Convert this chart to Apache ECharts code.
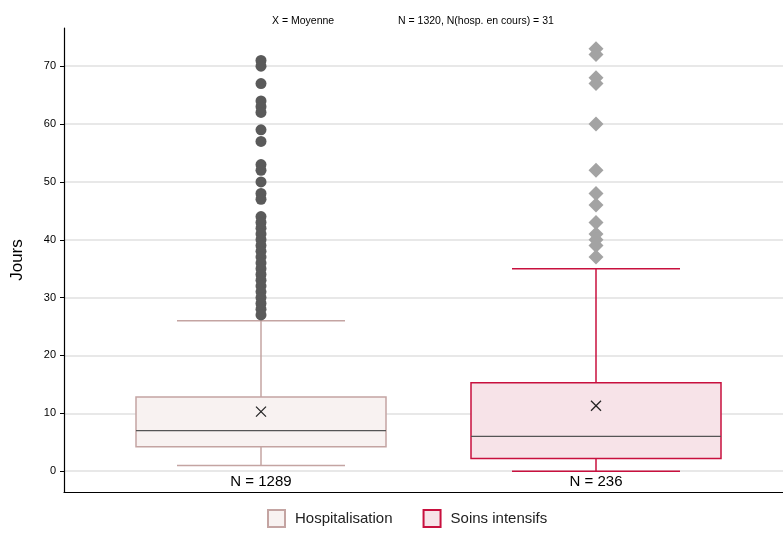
<!DOCTYPE html>
<html>
<head><meta charset="utf-8"></head>
<body style="margin:0">
<div id="c" style="width:783px;height:535px"></div>
<script src="https://cdn.jsdelivr.net/npm/echarts@6/dist/echarts.min.js"></script>
<script>
var categories = ['N = 1289', 'N = 236'];
var seriesNames = ['Hospitalisation', 'Soins intensifs'];
// [min, Q1, median, Q3, max, mean]
var boxStats = [
  [1, 4.2, 7, 12.8, 26, 10.3],
  [0, 2.2, 6, 15.3, 35, 11.3]
];
var outliersHosp = [71, 70, 67, 64, 63, 62, 59, 57, 53, 52, 50, 48, 47, 44, 43, 42, 41, 40, 39, 38, 37, 36, 35, 34, 33, 32, 31, 30, 29, 28, 27];
var outliersSI = [73, 72, 68, 67, 60, 52, 48, 46, 43, 41, 40, 39, 37];
var yTicks = [0, 10, 20, 30, 40, 50, 60, 70];

var fills = ['#f8f2f1', '#f7e3e8'];
var borders = ['#c4a4a2', '#c8103e'];
var YMIN = -3.6, YMAX = 76.6;

function renderBox(params, api) {
  var i = api.value(0);
  var s = boxStats[i];
  var cx = api.coord([i, 0])[0];
  var y = function (v) { return api.coord([i, v])[1]; };
  var hw = 125, cw = 84;
  var st = { stroke: borders[i], lineWidth: 1.5, fill: null };
  var mean = y(s[5]);
  return {
    type: 'group',
    children: [
      { type: 'line', shape: { x1: cx, y1: y(s[0]), x2: cx, y2: y(s[1]) }, style: st },
      { type: 'line', shape: { x1: cx, y1: y(s[3]), x2: cx, y2: y(s[4]) }, style: st },
      { type: 'line', shape: { x1: cx - cw, y1: y(s[0]), x2: cx + cw, y2: y(s[0]) }, style: st },
      { type: 'line', shape: { x1: cx - cw, y1: y(s[4]), x2: cx + cw, y2: y(s[4]) }, style: st },
      { type: 'rect', shape: { x: cx - hw, y: y(s[3]), width: 2 * hw, height: y(s[1]) - y(s[3]) },
        style: { fill: fills[i], stroke: borders[i], lineWidth: 1.5 } },
      { type: 'line', shape: { x1: cx - hw, y1: y(s[2]), x2: cx + hw, y2: y(s[2]) }, style: { stroke: '#555', lineWidth: 1.2 } },
      { type: 'line', shape: { x1: cx - 5, y1: mean - 5, x2: cx + 5, y2: mean + 5 }, style: { stroke: '#222', lineWidth: 1.2 } },
      { type: 'line', shape: { x1: cx - 5, y1: mean + 5, x2: cx + 5, y2: mean - 5 }, style: { stroke: '#222', lineWidth: 1.2 } }
    ]
  };
}

var chart = echarts.init(document.getElementById('c'));
chart.setOption({
  animation: false,
  title: [
    { text: 'X = Moyenne', left: 267, top: 11, textStyle: { fontSize: 10.5, fontWeight: 'normal', color: '#000', fontFamily: 'Arial' } },
    { text: 'N = 1320, N(hosp. en cours) = 31', left: 393, top: 11, textStyle: { fontSize: 10.5, fontWeight: 'normal', color: '#000', fontFamily: 'Arial' } }
  ],
  legend: {
    bottom: 2, left: 262, itemGap: 30, itemWidth: 17, itemHeight: 17, icon: 'rect',
    textStyle: { fontSize: 15, color: '#222', fontFamily: 'Arial', padding: [0, 0, 0, 5] },
    data: seriesNames
  },
  grid: [
    { left: 64, right: 0, top: 28, bottom: 43 },
    { left: 93.5, width: 670, top: 28, bottom: 43 }
  ],
  xAxis: [
    { gridIndex: 0, type: 'value', min: 0, max: 1, axisLine: { onZero: false, lineStyle: { color: '#000', width: 1.2 } }, axisTick: { show: false }, axisLabel: { show: false }, splitLine: { show: false } },
    { gridIndex: 1, type: 'category', data: categories, axisLine: { show: false }, axisTick: { show: false },
      axisLabel: { inside: true, margin: 3, fontSize: 15, color: '#000', fontFamily: 'Arial' } }
  ],
  yAxis: [
    { gridIndex: 0, type: 'value', min: YMIN, max: YMAX, name: 'Jours', nameLocation: 'middle', nameGap: 38,
      nameTextStyle: { fontSize: 17, color: '#000', fontFamily: 'Arial' },
      axisLine: { show: true, onZero: false, lineStyle: { color: '#000', width: 1.2 } },
      axisTick: { show: true, customValues: yTicks, length: 4, lineStyle: { color: '#000' } },
      axisLabel: { customValues: yTicks, fontSize: 11, color: '#000', fontFamily: 'Arial' },
      splitLine: { show: false } },
    { gridIndex: 1, type: 'value', min: YMIN, max: YMAX, show: false, splitLine: { show: false } }
  ],
  series: [
    { type: 'line', xAxisIndex: 0, yAxisIndex: 0, data: [], silent: true, z: 0,
      markLine: { symbol: 'none', silent: true, label: { show: false }, z: 0,
        lineStyle: { color: '#e0e0e0', type: 'solid', width: 1.5 },
        data: yTicks.map(function (v) { return { yAxis: v }; }) } },
    { name: seriesNames[0], type: 'custom', xAxisIndex: 1, yAxisIndex: 1, renderItem: renderBox, data: [[0]], z: 3,
      itemStyle: { color: fills[0], borderColor: borders[0], borderWidth: 1.5 } },
    { name: seriesNames[1], type: 'custom', xAxisIndex: 1, yAxisIndex: 1, renderItem: renderBox, data: [[1]], z: 3,
      itemStyle: { color: fills[1], borderColor: borders[1], borderWidth: 1.5 } },
    { type: 'scatter', xAxisIndex: 1, yAxisIndex: 1, symbol: 'circle', symbolSize: 11, z: 4,
      itemStyle: { color: '#5a5a5a', opacity: 1 },
      data: outliersHosp.map(function (v) { return [0, v]; }) },
    { type: 'scatter', xAxisIndex: 1, yAxisIndex: 1, symbol: 'diamond', symbolSize: 15, z: 4,
      itemStyle: { color: '#a3a3a3', opacity: 1 },
      data: outliersSI.map(function (v) { return [1, v]; }) }
  ]
});
</script>
</body>
</html>
